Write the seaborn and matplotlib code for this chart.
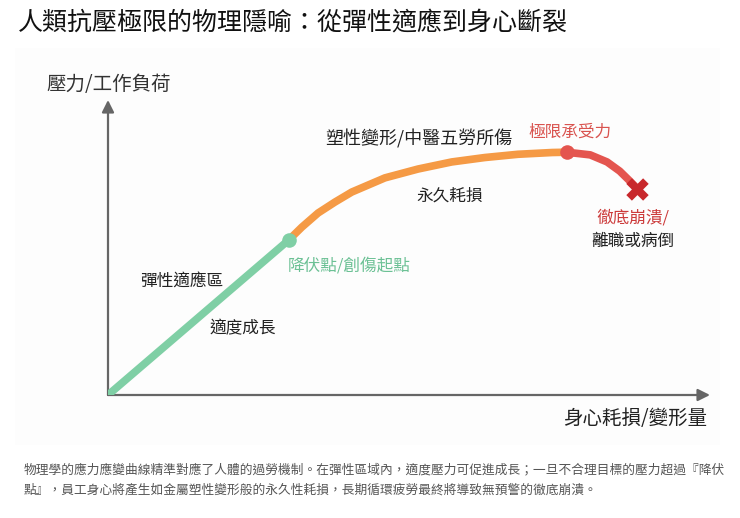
import numpy as np
import pandas as pd
import matplotlib
matplotlib.use("Agg")
import matplotlib.pyplot as plt
import seaborn as sns
from matplotlib.patches import Rectangle

# stress-strain curve (x: strain, y: stress, 0-10 scale)
elastic_x = [0.0, 3.0]
elastic_y = [0.0, 5.25]
plastic_x = [3.0, 3.22, 3.49, 3.77, 4.05, 4.60, 5.15, 5.71, 6.26, 6.81, 7.38, 7.62]
plastic_y = [5.25, 5.69, 6.17, 6.54, 6.88, 7.36, 7.66, 7.90, 8.05, 8.16, 8.22, 8.23]
failure_x = [7.62, 8.01, 8.29, 8.50, 8.67, 8.75]
failure_y = [8.23, 8.14, 7.90, 7.59, 7.25, 7.08]
yield_pt = (3.0, 5.25)
peak_pt = (7.62, 8.23)
break_pt = (8.79, 6.98)

title = "人類抗壓極限的物理隱喻：從彈性適應到身心斷裂"
y_label = "壓力/工作負荷"
x_label = "身心耗損/變形量"
footnote = ("物理學的應力應變曲線精準對應了人體的過勞機制。在彈性區域內，適度壓力可促進成長；一旦不合理目標的壓力超過『降伏\n"
            "點』，員工身心將產生如金屬塑性變形般的永久性耗損，長期循環疲勞最終將導致無預警的徹底崩潰。")

GREEN = "#7fcfa5"
ORANGE = "#f59a45"
RED = "#e4554f"
DARK_RED = "#c8282c"
TEXT = "#222222"
AXIS = "#666666"

sns.set_theme(style="white")
plt.rcParams["font.family"] = ["Noto Sans CJK TC", "DejaVu Sans"]

W, H = 740, 518
fig = plt.figure(figsize=(W / 100, H / 100), dpi=100)
fig.patch.set_facecolor("white")

# faint backing panel
fig.patches.append(Rectangle((15 / W, 1 - 445 / H), 705 / W, 397 / H,
                             transform=fig.transFigure, facecolor="#fdfdfd",
                             edgecolor="none", zorder=-10))

# axes placed so that data 0..10 maps onto the arrows
x0, x1, y0, y1 = 108, 710, 395, 100
ax = fig.add_axes([x0 / W, 1 - y0 / H, (x1 - x0) / W, (y0 - y1) / H])
ax.set_zorder(1)
ax.set_xlim(0, 10)
ax.set_ylim(0, 10)
ax.set_facecolor("none")
ax.patch.set_alpha(0)
for s in ax.spines.values():
    s.set_visible(False)
ax.set_xticks([])
ax.set_yticks([])

arrow = dict(arrowstyle="-|>,head_length=0.6,head_width=0.3", color=AXIS, lw=1.6,
             shrinkA=0, shrinkB=0)
ax.annotate("", xy=(10, 0), xytext=(0, 0), arrowprops=arrow, annotation_clip=False)
ax.annotate("", xy=(0, 10), xytext=(0, 0), arrowprops=arrow, annotation_clip=False)

df_el = pd.DataFrame({"x": elastic_x, "y": elastic_y})
df_pl = pd.DataFrame({"x": plastic_x, "y": plastic_y})
df_fa = pd.DataFrame({"x": failure_x, "y": failure_y})
kw = dict(x="x", y="y", sort=False, ax=ax, linewidth=5.5,
          solid_capstyle="round", solid_joinstyle="round")
sns.lineplot(data=df_pl, color=ORANGE, zorder=3, **kw)
sns.lineplot(data=df_fa, color=RED, zorder=3, **kw)
sns.lineplot(data=df_el, color=GREEN, zorder=4, **kw)

ax.scatter(*yield_pt, s=110, color=GREEN, zorder=5, clip_on=False, linewidths=0)
ax.scatter(*peak_pt, s=110, color=RED, zorder=5, clip_on=False, linewidths=0)
ax.scatter(*break_pt, s=260, marker="X", color=DARK_RED, zorder=6,
           clip_on=False, linewidths=0)

# labels
ax.text(-1.03, 10.54, y_label, fontsize=14, color="#333333", ha="left", va="center")
ax.text(9.95, -0.78, x_label, fontsize=14, color=TEXT, ha="right", va="center")

ax.text(3.60, 8.68, "塑性變形/中醫五勞所傷", fontsize=13, color=TEXT, va="center")
ax.text(5.12, 6.75, "永久耗損", fontsize=12, color=TEXT, va="center")
ax.text(0.53, 3.86, "彈性適應區", fontsize=12, color=TEXT, va="center")
ax.text(1.69, 2.24, "適度成長", fontsize=12, color=TEXT, va="center")
ax.text(2.99, 4.37, "降伏點/創傷起點", fontsize=12, color="#6cc195", va="center")
ax.text(6.98, 8.92, "極限承受力", fontsize=12, color="#d9534f", va="center")
ax.text(8.11, 6.00, "徹底崩潰/", fontsize=12, color="#cc3b3b", va="center")
ax.text(8.02, 5.19, "離職或病倒", fontsize=12, color=TEXT, va="center")

fig.text(18 / W, 1 - 22 / H, title, fontsize=18, color="#111111", ha="left", va="center")
fig.text(24 / W, 1 - 480 / H, footnote, fontsize=9.15, color="#555555", ha="left",
         va="center", linespacing=1.75)

fig.savefig("out.png", dpi=100, facecolor="white")
